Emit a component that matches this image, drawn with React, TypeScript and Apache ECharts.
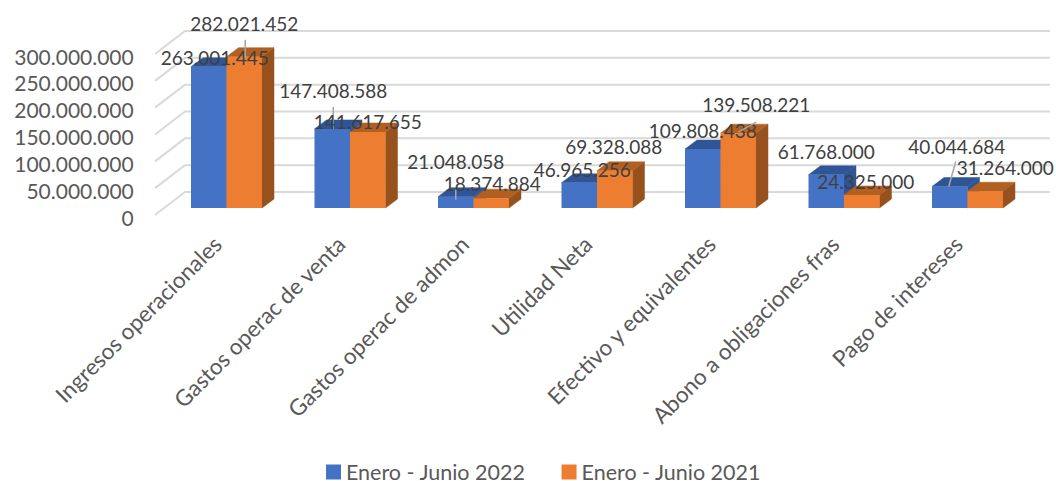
import React, { useEffect, useRef } from "react";
import * as echarts from "echarts";

const categories = [
  "Ingresos operacionales",
  "Gastos operac de venta",
  "Gastos operac de admon",
  "Utilidad Neta",
  "Efectivo y equivalentes",
  "Abono a obligaciones fras",
  "Pago de intereses",
];
const seriesNames = ["Enero - Junio 2022", "Enero - Junio 2021"];
const values2022 = [263001445, 147408588, 21048058, 46965256, 109808438, 61768000, 40044684];
const values2021 = [282021452, 141617655, 18374884, 69328088, 139508221, 24325000, 31264000];
const yTicks = [0, 50000000, 100000000, 150000000, 200000000, 250000000, 300000000];

// Layout only: label offsets from each bar's top-centre, and leader lines.
const labelOffsets2022 = [[6, -9], [1, -38], [0, -35], [3, -13], [0, -19], [0, -23], [7, -40]];
const labelOffsets2021 = [[0, -33], [0, -10], [1, -15], [-1, -24], [18, -29], [4, -13], [20, -24]];
const leaders2022: (number[] | null)[] = [null, [1, -22, 1, 0], [0, -7, 0, 3], null, null, null, [6, -25, -1, 0]];
const leaders2021: (number[] | null)[] = [[1, -17, 1, 1], null, null, null, [18, -11, 0, -1], null, null];

const FONT = "Lato, Carlito, Calibri, sans-serif";
const SERIES_STYLE = [
  { front: "#4472c4", top: "#2f5597", side: "#2f5597" },
  { front: "#ed7d31", top: "#b25f22", side: "#96511c" },
];
const BAR_W = 35.5;
const DX = 12;
const DY = 9;
const FRONT_SHIFT_X = 9;
const FRONT_SHIFT_Y = 9;

const fmt = (v: number) => String(v).replace(/\B(?=(\d{3})+(?!\d))/g, ".");

function barRender(si: number) {
  const c = SERIES_STYLE[si];
  return (_: any, api: any) => {
    const i = api.value(0);
    const v = api.value(1);
    const cx = api.coord([i, v])[0] + FRONT_SHIFT_X;
    const top = api.coord([i, v])[1] - FRONT_SHIFT_Y;
    const base = api.coord([i, 0])[1] - FRONT_SHIFT_Y;
    const x0 = si === 0 ? cx - BAR_W : cx;
    const x1 = x0 + BAR_W;
    const poly = (points: number[][], fill: string) => ({
      type: "polygon",
      shape: { points },
      style: { fill, stroke: fill, lineWidth: 0.5 },
    });
    return {
      type: "group",
      children: [
        poly([[x1, top], [x1 + DX, top - DY], [x1 + DX, base - DY], [x1, base]], c.side),
        poly([[x0, top], [x0 + DX, top - DY], [x1 + DX, top - DY], [x1, top]], c.top),
        { type: "rect", shape: { x: x0, y: top, width: BAR_W, height: base - top }, style: { fill: c.front } },
      ],
    };
  };
}

function labelRender(si: number, offsets: number[][], leaders: (number[] | null)[]) {
  return (_: any, api: any) => {
    const i = api.value(0);
    const v = api.value(1);
    const [cxBand, y] = api.coord([i, v]);
    const cx = (si === 0 ? cxBand - BAR_W / 2 : cxBand + BAR_W / 2) + FRONT_SHIFT_X;
    const top = y - FRONT_SHIFT_Y;
    const children: any[] = [];
    const l = leaders[i];
    if (l) {
      children.push({
        type: "line",
        shape: { x1: cx + l[0], y1: top + l[1], x2: cx + l[2], y2: top + l[3] },
        style: { stroke: "#a6a6a6", lineWidth: 1.5 },
      });
    }
    children.push({
      type: "text",
      style: {
        text: fmt(v),
        x: cx + offsets[i][0],
        y: top + offsets[i][1],
        align: "center",
        verticalAlign: "middle",
        fontSize: 19,
        fontFamily: FONT,
        fill: "#404040",
      },
    });
    return { type: "group", children };
  };
}

function gridRender(_: any, api: any) {
  const y = api.coord([0, api.value(1)])[1];
  return {
    type: "polyline",
    shape: { points: [[155, y - 2], [185, y - 25], [1050, y - 25]] },
    style: { stroke: "#d9d9d9", lineWidth: 2, fill: "none" },
  };
}

export default function App() {
  const ref = useRef<HTMLDivElement>(null);
  useEffect(() => {
    document.body.style.margin = "0";
    const chart = echarts.init(ref.current!, undefined, { renderer: "svg" });
    const toData = (arr: number[]) => arr.map((v, i) => [i, v]);
    chart.setOption({
      animation: false,
      backgroundColor: "#fff",
      grid: { left: 155.75, top: 56, width: 864.5, height: 161 },
      xAxis: {
        type: "category",
        data: categories,
        axisLine: { show: false },
        axisTick: { show: false },
        splitLine: { show: false },
        axisLabel: {
          rotate: 45,
          interval: 0,
          margin: 23,
          fontSize: 22.5,
          fontFamily: FONT,
          color: "#595959",
        },
      },
      yAxis: {
        type: "value",
        min: 0,
        max: 300000000,
        interval: 50000000,
        axisLine: { show: false },
        axisTick: { show: false },
        splitLine: { show: false },
        axisLabel: {
          margin: 22,
          fontSize: 21,
          fontFamily: FONT,
          color: "#595959",
          formatter: (v: number) => fmt(v),
        },
      },
      legend: {
        left: 321,
        top: 456,
        data: seriesNames,
        selectedMode: false,
        icon: "rect",
        itemWidth: 15,
        itemHeight: 15,
        itemGap: 36,
        textStyle: { fontSize: 21.5, fontFamily: FONT, color: "#595959" },
      },
      series: [
        { type: "custom", silent: true, z: 1, renderItem: gridRender, data: yTicks.map((v) => [0, v]), encode: { x: 0, y: 1 } },
        { type: "custom", name: seriesNames[0], silent: true, z: 2, renderItem: barRender(0), data: toData(values2022), encode: { x: 0, y: 1 }, itemStyle: { color: SERIES_STYLE[0].front } },
        { type: "custom", name: seriesNames[1], silent: true, z: 3, renderItem: barRender(1), data: toData(values2021), encode: { x: 0, y: 1 }, itemStyle: { color: SERIES_STYLE[1].front } },
        { type: "custom", silent: true, z: 4, renderItem: labelRender(0, labelOffsets2022, leaders2022), data: toData(values2022), encode: { x: 0, y: 1 } },
        { type: "custom", silent: true, z: 5, renderItem: labelRender(1, labelOffsets2021, leaders2021), data: toData(values2021), encode: { x: 0, y: 1 } },
      ],
    });
    return () => chart.dispose();
  }, []);
  return <div ref={ref} style={{ width: 1056, height: 481 }} />;
}
